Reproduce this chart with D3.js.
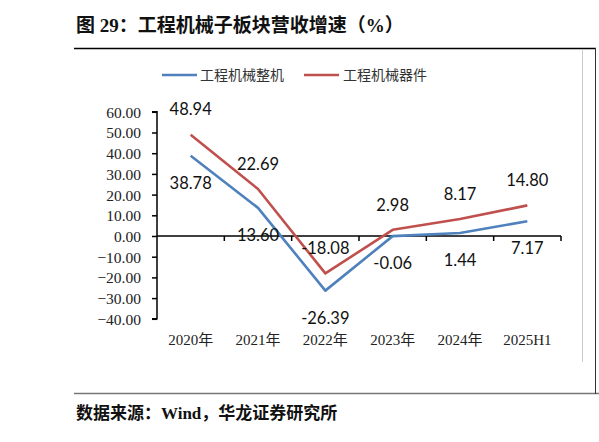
<!DOCTYPE html>
<html><head><meta charset="utf-8">
<script src="https://cdn.jsdelivr.net/npm/d3@7"></script>
<style>body{margin:0;background:#fff}svg{display:block}</style>
</head><body><svg id="c" width="599" height="442"></svg>
<script>
const categories = ["2020年","2021年","2022年","2023年","2024年","2025H1"];
const seriesNames = ["工程机械整机","工程机械器件"];
const wholeMachine = [38.78, 13.60, -26.39, -0.06, 1.44, 7.17];
const components = [48.94, 22.69, -18.08, 2.98, 8.17, 14.80];
const yTicks = [60,50,40,30,20,10,0,-10,-20,-30,-40];
const colors = ["#4F81BD","#C0504D"];

const svg = d3.select("#c");
const serifCJK = "'Liberation Serif','Times New Roman','Noto Sans CJK SC',serif";

// title
svg.append("text").attr("x",76).attr("y",32).attr("font-family",serifCJK)
  .attr("font-weight","bold").attr("font-size",19).attr("fill","#111")
  .text("图 29：工程机械子板块营收增速（%）");
// frame lines
svg.append("line").attr("x1",74).attr("x2",596).attr("y1",48.5).attr("y2",48.5).attr("stroke","#000").attr("stroke-width",1.3);
svg.append("line").attr("x1",74).attr("x2",599).attr("y1",393.5).attr("y2",393.5).attr("stroke","#777").attr("stroke-width",1.3);
svg.append("line").attr("x1",595.5).attr("x2",595.5).attr("y1",48).attr("y2",394).attr("stroke","#333").attr("stroke-width",1);
svg.append("line").attr("x1",582.5).attr("x2",582.5).attr("y1",50).attr("y2",362).attr("stroke","#ccc").attr("stroke-width",1);

// source
svg.append("text").attr("x",76).attr("y",419).attr("font-family",serifCJK)
  .attr("font-weight","bold").attr("font-size",17).attr("fill","#111")
  .text("数据来源：Wind，华龙证券研究所");

const x = d3.scaleBand().domain(categories).range([157,561]);
const y = d3.scaleLinear().domain([-40,60]).range([318.8,111.8]);

// y axis
const yAxis = d3.axisLeft(y).tickValues(yTicks).tickSize(5).tickFormat(d3.format(".2f"));
const ga = svg.append("g").attr("transform","translate(157,0)").call(yAxis);
ga.select(".domain").attr("stroke","#000").attr("stroke-width",1.5).attr("d","M-5,"+y(60)+"H0V"+y(-40)+"H-5");
ga.selectAll(".tick line").attr("stroke","#000").attr("stroke-width",1.5);
ga.selectAll(".tick text").attr("font-family","'Liberation Serif','Times New Roman',serif")
  .attr("font-size",15.5).attr("fill","#222").attr("x",-16).attr("dy","0.35em");

// x axis at zero
const xAxis = d3.axisBottom(x).tickSize(0).tickFormat("");
const gx = svg.append("g").attr("transform","translate(0,"+y(0)+")").call(xAxis);
gx.select(".domain").attr("stroke","#000").attr("stroke-width",1.5).attr("d","M157,0H561");
const bounds = categories.slice(1).map(c=>x(c)).concat([x.range()[1]]);
gx.selectAll("line.bt").data(bounds).enter().append("line").attr("class","bt")
  .attr("x1",d=>d).attr("x2",d=>d).attr("y1",0).attr("y2",5).attr("stroke","#000").attr("stroke-width",1.5);

// category labels
svg.append("g").selectAll("text").data(categories).enter().append("text")
  .attr("x",d=>x(d)+x.bandwidth()/2).attr("y",345).attr("text-anchor","middle")
  .attr("font-family",serifCJK).attr("font-size",15).attr("fill","#222").text(d=>d);

// lines
const line = d3.line().x((d,i)=>x(categories[i])+x.bandwidth()/2).y(d=>y(d));
[wholeMachine, components].forEach((s,k)=>{
  svg.append("path").datum(s).attr("d",line).attr("fill","none")
    .attr("stroke",colors[k]).attr("stroke-width",2.6).attr("stroke-linejoin","round");
});

// labels
const lblFont = "Lato,'Open Sans',sans-serif";
svg.append("g").selectAll("text").data(components).enter().append("text")
  .attr("x",(d,i)=>x(categories[i])+x.bandwidth()/2).attr("y",d=>y(d)-25)
  .attr("dy","0.35em").attr("text-anchor","middle").attr("font-family",lblFont)
  .attr("font-size",16.5).attr("fill","#111").text(d=>d.toFixed(2));
svg.append("g").selectAll("text").data(wholeMachine).enter().append("text")
  .attr("x",(d,i)=>x(categories[i])+x.bandwidth()/2).attr("y",d=>y(d)+27.5)
  .attr("dy","0.35em").attr("text-anchor","middle").attr("font-family",lblFont)
  .attr("font-size",16.5).attr("fill","#111").text(d=>d.toFixed(2));

// legend
const leg = [{x:162,tx:200},{x:304,tx:343}];
seriesNames.forEach((n,k)=>{
  svg.append("line").attr("x1",leg[k].x).attr("x2",leg[k].x+35).attr("y1",75).attr("y2",75)
    .attr("stroke",colors[k]).attr("stroke-width",2.6);
  svg.append("text").attr("x",leg[k].tx).attr("y",75).attr("dy","0.35em")
    .attr("font-family",serifCJK).attr("font-size",14).attr("fill","#333").text(n);
});
</script></body></html>
